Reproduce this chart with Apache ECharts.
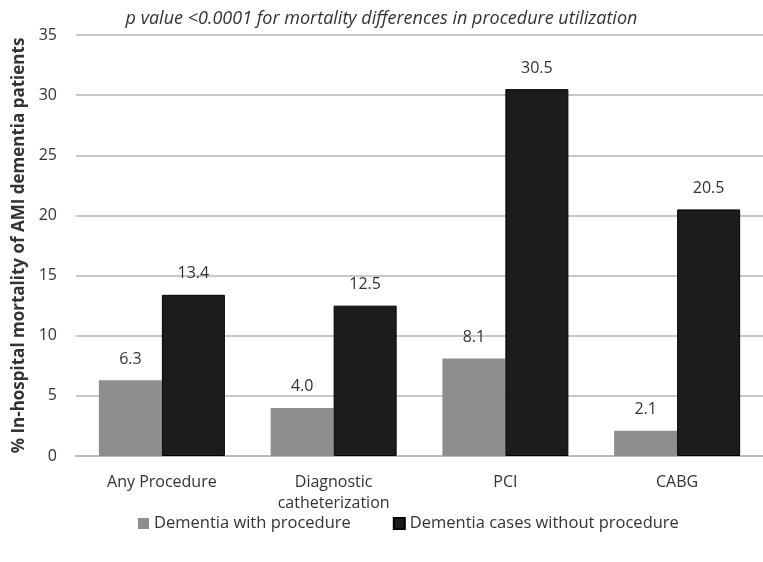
<!DOCTYPE html>
<html><head><meta charset="utf-8">
<script src="https://cdn.jsdelivr.net/npm/echarts@6/dist/echarts.min.js"></script>
<style>html,body{margin:0;padding:0;background:#fff}#c{width:763px;height:562px}</style>
</head><body><div id="c"></div>
<script>
const categories = ['Any Procedure', 'Diagnostic\ncatheterization', 'PCI', 'CABG'];
const withProcedure = [6.3, 4.0, 8.1, 2.1];
const withoutProcedure = [13.4, 12.5, 30.5, 20.5];
const seriesNames = ['Dementia with procedure', 'Dementia cases without procedure'];
const titleText = 'p value <0.0001 for mortality differences in procedure utilization';
const yName = '% In-hospital mortality of AMI dementia patients';

const font = '"Open Sans", "Liberation Sans", sans-serif';
const chart = echarts.init(document.getElementById('c'), null, {renderer: 'canvas'});
const labelStyle = {show: true, position: 'top', distance: 13, color: '#333', fontSize: 16, fontFamily: font,
  formatter: p => p.value.toFixed(1)};
chart.setOption({
  animation: false,
  backgroundColor: '#fff',
  title: {text: titleText, left: 'center', top: 5,
    textStyle: {fontStyle: 'italic', fontWeight: 'normal', fontSize: 18, color: '#333', fontFamily: font}},
  grid: {left: 76, right: 0, top: 35, bottom: 106},
  legend: {top: 510, left: 133, itemGap: 42, itemWidth: 11, itemHeight: 11, icon: 'rect',
    textStyle: {fontSize: 16.5, color: '#333', fontFamily: font}},
  xAxis: {type: 'category', data: categories,
    axisLine: {lineStyle: {color: '#bbb', width: 2}}, axisTick: {show: false},
    axisLabel: {fontSize: 16, color: '#333', fontFamily: font, margin: 16, lineHeight: 21}},
  yAxis: {type: 'value', min: 0, max: 35, interval: 5,
    name: yName, nameLocation: 'middle', nameGap: 48,
    nameTextStyle: {fontSize: 17, fontWeight: 'bold', color: '#333', fontFamily: font},
    axisLabel: {fontSize: 16, color: '#333', fontFamily: font, margin: 19},
    splitLine: {lineStyle: {color: '#c8c8c8', width: 2}}},
  series: [
    {name: seriesNames[0], type: 'bar', data: withProcedure, barWidth: 63, barGap: '0%',
      itemStyle: {color: '#8e8e8e'}, label: labelStyle},
    {name: seriesNames[1], type: 'bar', data: withoutProcedure, barWidth: 63,
      itemStyle: {color: '#1c1c1c', borderColor: '#000', borderWidth: 1}, label: labelStyle}
  ]
});
</script></body></html>
